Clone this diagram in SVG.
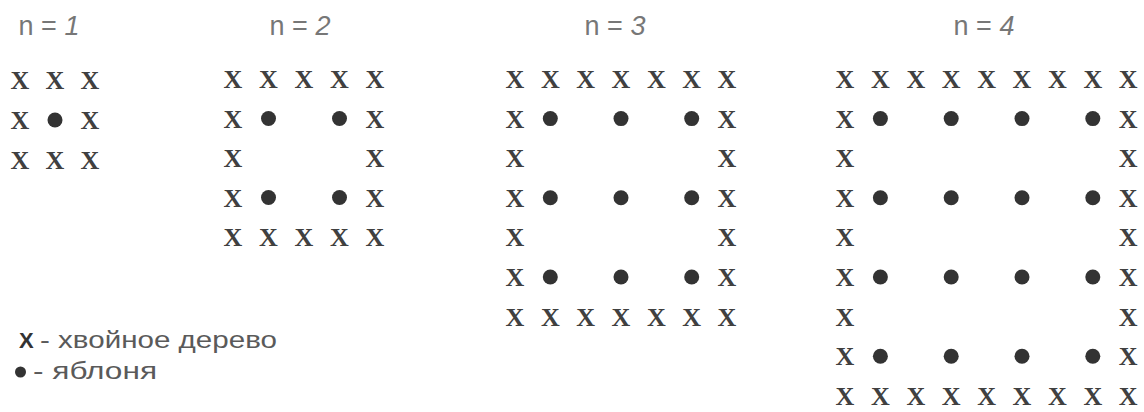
<svg xmlns="http://www.w3.org/2000/svg" width="1144" height="412" viewBox="0 0 1144 412">
<style>
.x{font-family:"Liberation Serif","Times New Roman",serif;font-size:26px;font-weight:bold;fill:#404040;text-anchor:middle}
.d{fill:#333}
.t{font-family:"Liberation Sans",Arial,sans-serif;font-size:27px;fill:#777;text-anchor:middle}
.t tspan{font-style:italic}
.lg{font-family:"Liberation Sans",Arial,sans-serif;font-size:23px;fill:#5a5a5a}
</style>
<rect width="1144" height="412" fill="#fff"/>
<g id="fig-n1">
<text class="t" x="49" y="35">n = <tspan>1</tspan></text>
<text class="x" x="20" y="89">X</text><text class="x" x="55" y="89">X</text><text class="x" x="90" y="89">X</text>
<text class="x" x="20" y="129">X</text><circle class="d" cx="55" cy="120" r="7.5"/><text class="x" x="90" y="129">X</text>
<text class="x" x="20" y="169">X</text><text class="x" x="55" y="169">X</text><text class="x" x="90" y="169">X</text>
</g>
<g id="fig-n2">
<text class="t" x="300" y="35">n = <tspan>2</tspan></text>
<text class="x" x="233" y="88">X</text><text class="x" x="268.5" y="88">X</text><text class="x" x="304" y="88">X</text><text class="x" x="339.5" y="88">X</text><text class="x" x="375" y="88">X</text>
<text class="x" x="233" y="127.5">X</text><circle class="d" cx="268.5" cy="118.5" r="7.5"/><circle class="d" cx="339.5" cy="118.5" r="7.5"/><text class="x" x="375" y="127.5">X</text>
<text class="x" x="233" y="167">X</text><text class="x" x="375" y="167">X</text>
<text class="x" x="233" y="206.5">X</text><circle class="d" cx="268.5" cy="197.5" r="7.5"/><circle class="d" cx="339.5" cy="197.5" r="7.5"/><text class="x" x="375" y="206.5">X</text>
<text class="x" x="233" y="246">X</text><text class="x" x="268.5" y="246">X</text><text class="x" x="304" y="246">X</text><text class="x" x="339.5" y="246">X</text><text class="x" x="375" y="246">X</text>
</g>
<g id="fig-n3">
<text class="t" x="615" y="35">n = <tspan>3</tspan></text>
<text class="x" x="515" y="88">X</text><text class="x" x="550.3" y="88">X</text><text class="x" x="585.7" y="88">X</text><text class="x" x="621" y="88">X</text><text class="x" x="656.3" y="88">X</text><text class="x" x="691.7" y="88">X</text><text class="x" x="727" y="88">X</text>
<text class="x" x="515" y="127.6">X</text><circle class="d" cx="550.3" cy="118.6" r="7.5"/><circle class="d" cx="621" cy="118.6" r="7.5"/><circle class="d" cx="691.7" cy="118.6" r="7.5"/><text class="x" x="727" y="127.6">X</text>
<text class="x" x="515" y="167.2">X</text><text class="x" x="727" y="167.2">X</text>
<text class="x" x="515" y="206.8">X</text><circle class="d" cx="550.3" cy="197.8" r="7.5"/><circle class="d" cx="621" cy="197.8" r="7.5"/><circle class="d" cx="691.7" cy="197.8" r="7.5"/><text class="x" x="727" y="206.8">X</text>
<text class="x" x="515" y="246.4">X</text><text class="x" x="727" y="246.4">X</text>
<text class="x" x="515" y="286">X</text><circle class="d" cx="550.3" cy="277" r="7.5"/><circle class="d" cx="621" cy="277" r="7.5"/><circle class="d" cx="691.7" cy="277" r="7.5"/><text class="x" x="727" y="286">X</text>
<text class="x" x="515" y="325.6">X</text><text class="x" x="550.3" y="325.6">X</text><text class="x" x="585.7" y="325.6">X</text><text class="x" x="621" y="325.6">X</text><text class="x" x="656.3" y="325.6">X</text><text class="x" x="691.7" y="325.6">X</text><text class="x" x="727" y="325.6">X</text>
</g>
<g id="fig-n4">
<text class="t" x="984" y="35">n = <tspan>4</tspan></text>
<text class="x" x="845" y="88">X</text><text class="x" x="880.4" y="88">X</text><text class="x" x="915.8" y="88">X</text><text class="x" x="951.2" y="88">X</text><text class="x" x="986.6" y="88">X</text><text class="x" x="1022" y="88">X</text><text class="x" x="1057.4" y="88">X</text><text class="x" x="1092.8" y="88">X</text><text class="x" x="1128.2" y="88">X</text>
<text class="x" x="845" y="127.6">X</text><circle class="d" cx="880.4" cy="118.6" r="7.5"/><circle class="d" cx="951.2" cy="118.6" r="7.5"/><circle class="d" cx="1022" cy="118.6" r="7.5"/><circle class="d" cx="1092.8" cy="118.6" r="7.5"/><text class="x" x="1128.2" y="127.6">X</text>
<text class="x" x="845" y="167.2">X</text><text class="x" x="1128.2" y="167.2">X</text>
<text class="x" x="845" y="206.8">X</text><circle class="d" cx="880.4" cy="197.8" r="7.5"/><circle class="d" cx="951.2" cy="197.8" r="7.5"/><circle class="d" cx="1022" cy="197.8" r="7.5"/><circle class="d" cx="1092.8" cy="197.8" r="7.5"/><text class="x" x="1128.2" y="206.8">X</text>
<text class="x" x="845" y="246.4">X</text><text class="x" x="1128.2" y="246.4">X</text>
<text class="x" x="845" y="286">X</text><circle class="d" cx="880.4" cy="277" r="7.5"/><circle class="d" cx="951.2" cy="277" r="7.5"/><circle class="d" cx="1022" cy="277" r="7.5"/><circle class="d" cx="1092.8" cy="277" r="7.5"/><text class="x" x="1128.2" y="286">X</text>
<text class="x" x="845" y="325.6">X</text><text class="x" x="1128.2" y="325.6">X</text>
<text class="x" x="845" y="365.2">X</text><circle class="d" cx="880.4" cy="356.2" r="7.5"/><circle class="d" cx="951.2" cy="356.2" r="7.5"/><circle class="d" cx="1022" cy="356.2" r="7.5"/><circle class="d" cx="1092.8" cy="356.2" r="7.5"/><text class="x" x="1128.2" y="365.2">X</text>
<text class="x" x="845" y="404.8">X</text><text class="x" x="880.4" y="404.8">X</text><text class="x" x="915.8" y="404.8">X</text><text class="x" x="951.2" y="404.8">X</text><text class="x" x="986.6" y="404.8">X</text><text class="x" x="1022" y="404.8">X</text><text class="x" x="1057.4" y="404.8">X</text><text class="x" x="1092.8" y="404.8">X</text><text class="x" x="1128.2" y="404.8">X</text>
</g>
<g id="legend">
<text class="lg" x="19" y="348" style="fill:#333;font-weight:bold;font-size:22px">X</text>
<text class="lg" x="40" y="348" textLength="237" lengthAdjust="spacingAndGlyphs">- хвойное дерево</text>
<circle class="d" cx="20.5" cy="372" r="5.5"/>
<text class="lg" x="33" y="379" textLength="124" lengthAdjust="spacingAndGlyphs">- яблоня</text>
</g>
</svg>
